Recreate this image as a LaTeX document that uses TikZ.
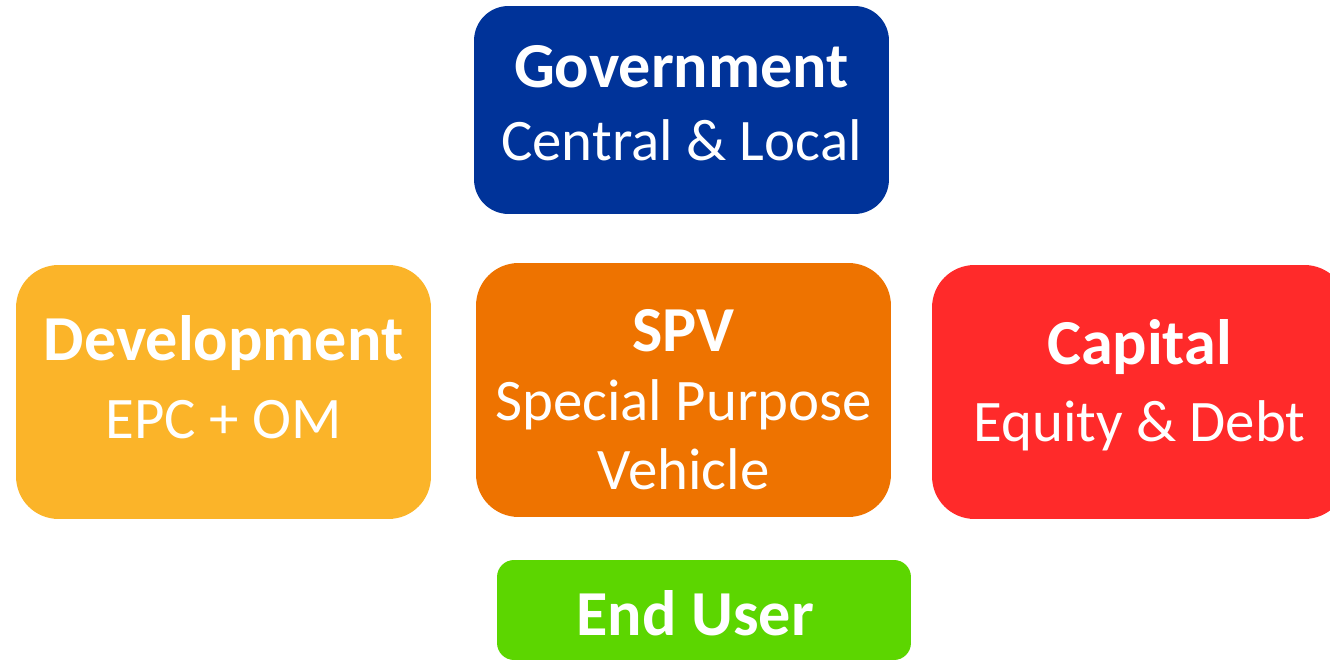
\documentclass[tikz,border=0pt]{standalone}
\usepackage{fontspec}
\setmainfont{Carlito}
\usetikzlibrary{positioning}

\definecolor{govblue}{RGB}{0,51,153}
\definecolor{devyellow}{RGB}{251,180,41}
\definecolor{spvorange}{RGB}{238,115,0}
\definecolor{capred}{RGB}{255,42,42}
\definecolor{usergreen}{RGB}{92,214,0}

\newcommand{\headline}[1]{{\fontsize{36.5}{41}\selectfont\bfseries #1}}
% nudge a text block up (\liftby) or down (\dropby)
\newcommand{\liftby}[1]{\rule[-#1]{0pt}{#1}}
\newcommand{\dropby}[2]{\raisebox{0pt}[\dimexpr\height+#1\relax]{#2}}

\begin{document}
\begin{tikzpicture}[x=0.02cm,y=-0.02cm,
  party/.style={rounded corners=0.85cm,text=white,align=center,
    minimum width=8.3cm,minimum height=5.08cm,inner sep=0pt,
    font=\fontsize{33.5}{40}\selectfont}]

\useasboundingbox (0,0) rectangle (1330,661);

% ---- top: the public side ----
\node[party,fill=govblue,rounded corners=0.69cm,minimum height=4.16cm,
  font=\fontsize{33.5}{41}\selectfont] (gov) at (681.5,110)
  {\headline{Government}\\Central \& Local\liftby{8pt}};

% ---- middle row: builders, the vehicle, the money ----
\node[party,fill=devyellow] (dev) at (223.5,392)
  {\headline{Development}\\[4pt]EPC + OM\liftby{17pt}};
\node[party,fill=spvorange,font=\fontsize{33.5}{39}\selectfont] (spv) at (683.5,390)
  {\dropby{11pt}{\headline{SPV}}\\Special Purpose\\Vehicle};
\node[party,fill=capred] (cap) at (1139.5,392)
  {\headline{Capital}\\[4pt]Equity \& Debt\liftby{13pt}};

% ---- bottom: who it is for ----
\node[party,fill=usergreen,rounded corners=0.34cm,minimum width=8.28cm,minimum height=2cm] (user) at (704,610)
  {\dropby{3.5pt}{\headline{End User}}\hspace*{10pt}};

\end{tikzpicture}
\end{document}
